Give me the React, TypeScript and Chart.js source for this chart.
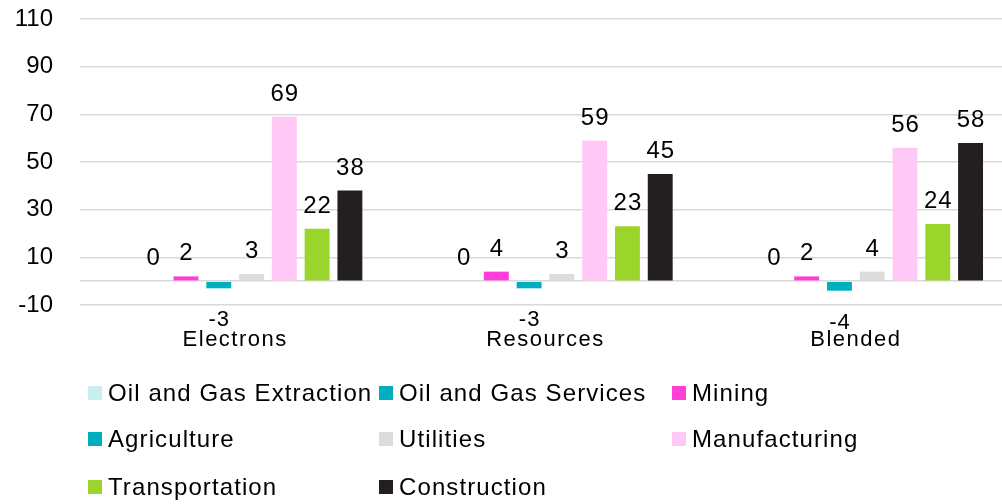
import React, { useEffect, useRef } from "react";
import { Chart, registerables } from "chart.js";

Chart.register(...registerables);

const categories = ["Electrons", "Resources", "Blended"];
const seriesNames = [
  "Oil and Gas Extraction",
  "Oil and Gas Services",
  "Mining",
  "Agriculture",
  "Utilities",
  "Manufacturing",
  "Transportation",
  "Construction",
];
const seriesColors = ["#c8eef0", "#00afbf", "#ff3dd9", "#00afbf", "#dcdcdc", "#ffc9f5", "#9bd42b", "#231f20"];
const oilGasExtraction: (number | null)[] = [null, null, null];
const oilGasServices = [0, 0, 0];
const mining = [2, 4, 2];
const agriculture = [-3, -3, -4];
const utilities = [3, 3, 4];
const manufacturing = [69, 59, 56];
const transportation = [22, 23, 24];
const construction = [38, 45, 58];
const yTickValues = [-10, 10, 30, 50, 70, 90, 110];
const zeroLine = 0;

const seriesData = [
  oilGasExtraction,
  oilGasServices,
  mining,
  agriculture,
  utilities,
  manufacturing,
  transportation,
  construction,
];

const FONT = "'Liberation Sans', Arial, Helvetica, sans-serif";

const labelPlugin = {
  id: "valueLabels",
  beforeDraw(chart: any) {
    chart.ctx.letterSpacing = "0px";
  },
  afterDatasetsDraw(chart: any) {
    const ctx = chart.ctx;
    ctx.save();
    ctx.fillStyle = "#000";
    ctx.textAlign = "center";
    ctx.textBaseline = "alphabetic";
    chart.data.datasets.forEach((ds: any, i: number) => {
      const meta = chart.getDatasetMeta(i);
      meta.data.forEach((bar: any, j: number) => {
        const v = ds.data[j];
        if (v === null || v === undefined) return;
        const { x, y } = bar.getProps(["x", "y"], true);
        ctx.letterSpacing = "1px";
        if (v >= 0) {
          ctx.font = `24px ${FONT}`;
          ctx.fillText(String(v), x + 0.5, y - 16);
        } else {
          ctx.font = `22px ${FONT}`;
          ctx.fillText(String(v), x + 0.5, y + 38);
        }
      });
    });
    ctx.restore();
    ctx.letterSpacing = "1.5px";
  },
};

const legendCols = [88, 379, 672];
const legendRows = [393, 439, 487];

export default function App() {
  const ref = useRef<HTMLCanvasElement | null>(null);

  useEffect(() => {
    if (!ref.current) return;
    const chart = new Chart(ref.current, {
      type: "bar",
      data: {
        labels: categories,
        datasets: seriesNames.map((name, i) => ({
          label: name,
          data: seriesData[i],
          backgroundColor: seriesColors[i],
          borderWidth: 0,
          categoryPercentage: 0.845,
          barPercentage: 0.76,
        })),
      },
      options: {
        responsive: false,
        animation: false,
        layout: { padding: { top: 19, bottom: 144, left: 0, right: 0 } },
        plugins: {
          legend: { display: false },
          tooltip: { enabled: false },
          title: { display: false },
        },
        scales: {
          x: {
            grid: { display: false, drawTicks: false },
            border: { display: false },
            ticks: {
              font: { size: 22, family: FONT },
              color: "#000",
              padding: 22,
              z: 1,
              maxRotation: 0,
            },
            afterFit: (scale: any) => {
              scale.height = 55;
              scale.paddingLeft = 0;
              scale.paddingRight = 0;
            },
          },
          y: {
            min: -10,
            max: 110,
            grid: { color: "#d9d9d9", lineWidth: 1.5, drawTicks: false },
            border: { display: false },
            ticks: {
              font: { size: 24, family: FONT },
              color: "#000",
              padding: 27,
              callback: (v: any) => (v === zeroLine ? "" : String(v)),
            },
            afterBuildTicks: (scale: any) => {
              scale.ticks = [...yTickValues, zeroLine]
                .sort((a, b) => a - b)
                .map((v) => ({ value: v }));
            },
            afterFit: (scale: any) => {
              scale.width = 80;
              scale.paddingTop = 0;
              scale.paddingBottom = 0;
            },
          },
        },
      },
      plugins: [labelPlugin],
    });
    return () => chart.destroy();
  }, []);

  return (
    <div
      style={{
        position: "fixed",
        left: 0,
        top: 0,
        width: 1002,
        height: 504,
        overflow: "hidden",
        background: "#fff",
      }}
    >
      <canvas ref={ref} width={1011} height={504} style={{ display: "block", width: 1011, height: 504 }} />
      {seriesNames.map((name, i) => (
        <div
          key={name}
          style={{
            position: "absolute",
            left: legendCols[i % 3],
            top: legendRows[Math.floor(i / 3)] - 15,
            height: 30,
            display: "flex",
            alignItems: "center",
            whiteSpace: "nowrap",
          }}
        >
          <div style={{ width: 14, height: 14, background: seriesColors[i], marginRight: 6 }} />
          <span
            style={{
              fontFamily: FONT,
              fontSize: 24,
              letterSpacing: "1.1px",
              lineHeight: "30px",
              color: "#000",
            }}
          >
            {name}
          </span>
        </div>
      ))}
    </div>
  );
}
